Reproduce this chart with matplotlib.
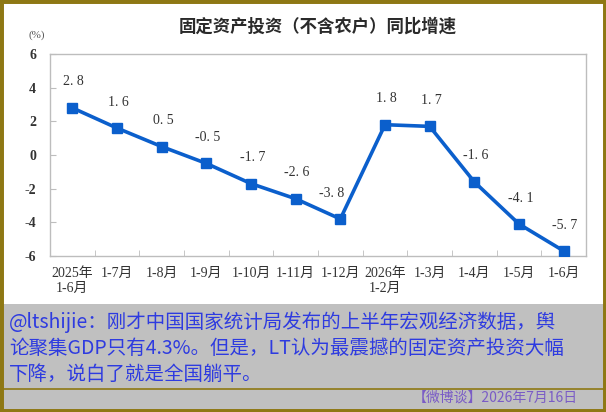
import matplotlib
matplotlib.use("Agg")
import matplotlib.pyplot as plt
from matplotlib.patches import Rectangle
from matplotlib.lines import Line2D
import numpy as np

plt.rcParams['font.family'] = ['Liberation Serif', 'Noto Sans CJK SC', 'DejaVu Sans']

# data
periods = ["2025年\n1-6月", "1-7月", "1-8月", "1-9月", "1-10月", "1-11月", "1-12月",
           "2026年\n1-2月", "1-3月", "1-4月", "1-5月", "1-6月"]
growth = [2.8, 1.6, 0.5, -0.5, -1.7, -2.6, -3.8, 1.8, 1.7, -1.6, -4.1, -5.7]
yticks = [-6, -4, -2, 0, 2, 4, 6]

title = "固定资产投资（不含农户）同比增速"
comment = ["@ltshijie：刚才中国国家统计局发布的上半年宏观经济数据，舆",
           "论聚集GDP只有4.3%。但是，LT认为最震撼的固定资产投资大幅",
           "下降，说白了就是全国躺平。"]
footer = "【微博谈】2026年7月16日"

W, H = 606, 412
fig = plt.figure(figsize=(W / 100, H / 100), dpi=100)
fig.patch.set_facecolor("white")

gold = "#8E7814"
line_blue = "#0B5FCC"
frame = "#BDBDBD"
txt = "#333333"

# bottom gray panel + separator + gold border
fig.patches.append(Rectangle((0, 0), 1, 1 - 304 / H, transform=fig.transFigure,
                             facecolor="#C0C0C0", edgecolor="none", zorder=0))
fig.lines.append(Line2D([0, 1], [1 - 389 / H] * 2, transform=fig.transFigure,
                        color=gold, lw=1.2))
fig.patches.append(Rectangle((0, 0), 1, 1, transform=fig.transFigure, fill=False,
                             edgecolor=gold, lw=5, zorder=10))

ax = fig.add_axes([50 / W, 1 - 256 / H, (586 - 50) / W, (256 - 54) / H])
x = np.arange(len(growth))
ax.plot(x, growth, color=line_blue, lw=2.6, marker="s", ms=7.5,
        markerfacecolor=line_blue, markeredgecolor=line_blue, zorder=3)

for i, v in enumerate(growth):
    dx = -6 if v == -3.8 else 1
    ax.annotate(f"{v:.1f}".replace(".", ". "), (i, v), xytext=(dx, 14),
                textcoords="offset points", ha="center", va="bottom",
                fontsize=10, color=txt)

ax.set_xlim(-0.5, len(growth) - 0.5)
ax.set_ylim(-6, 6)
ax.set_yticks(yticks)
ax.set_yticklabels([str(t) for t in yticks], fontsize=10, color=txt, fontweight="bold")
ax.set_xticks(x)
ax.set_xticklabels(periods, fontsize=10, color=txt, linespacing=1.15)
ax.set_xticks(np.arange(0.5, len(growth) - 1, 1), minor=True)
ax.tick_params(axis="x", which="major", length=0, pad=8)
ax.tick_params(axis="x", which="minor", direction="in", length=4, color=frame)
ax.tick_params(axis="y", direction="in", length=4, color=frame, pad=10)
for s in ax.spines.values():
    s.set_color(frame)
    s.set_linewidth(1.0)

fig.text(318 / W, 1 - 27 / H, title, ha="center", va="center", fontsize=12.5,
         color="#2A2A2A", family=["Noto Sans CJK SC"], fontweight="bold")
fig.text(37 / W, 1 - 35 / H, "(%)", ha="center", va="center", fontsize=8, color="#555555")

for k, line in enumerate(comment):
    fig.text(9 / W, 1 - (322 + 26 * k) / H, line, ha="left", va="center",
             fontsize=14, color="#2E3BE0", family=["Noto Sans CJK SC"])
fig.text(578 / W, 1 - 398 / H, footer, ha="right", va="center", fontsize=10,
         color="#7A5CC6", family=["Noto Sans CJK SC"])

fig.savefig("out.png", dpi=100)
